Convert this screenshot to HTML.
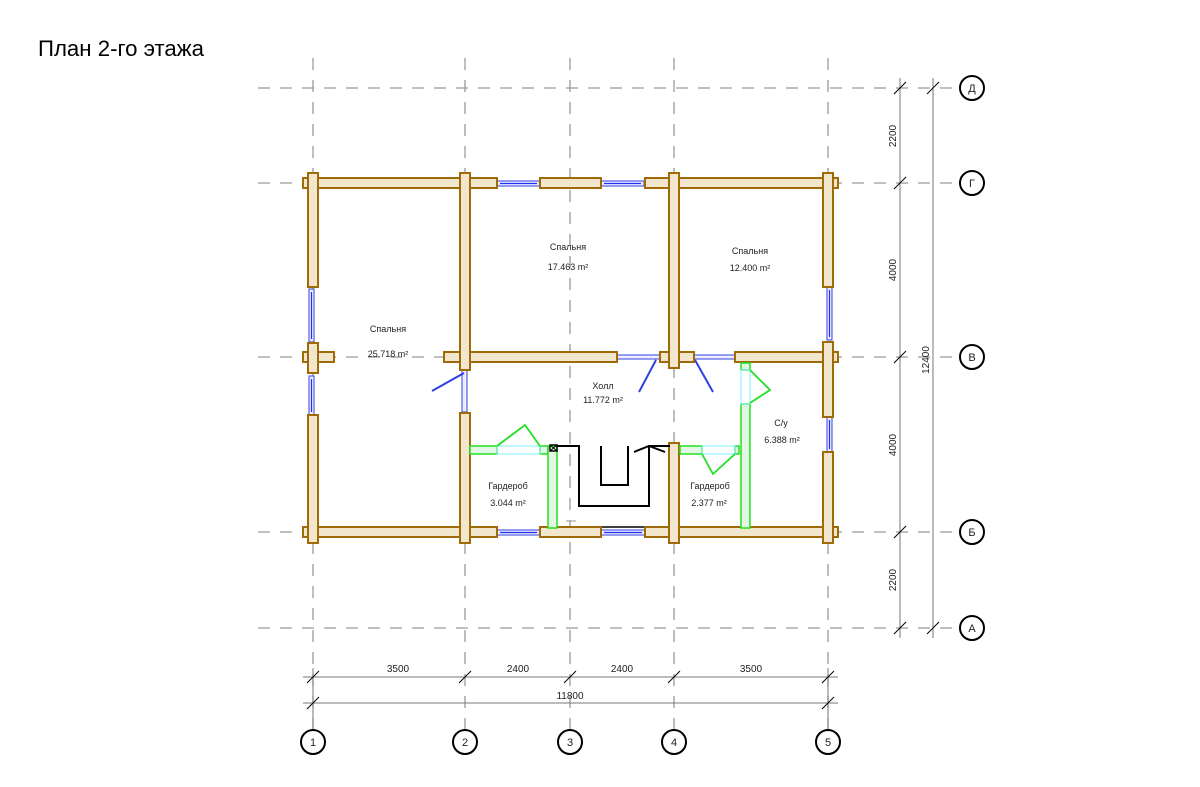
<!DOCTYPE html>
<html><head><meta charset="utf-8"><style>
html,body{margin:0;padding:0;background:#fff;}
svg{display:block;}
text{font-family:"Liberation Sans Narrow","Liberation Sans",sans-serif;fill:#222;}
</style></head><body>
<svg width="1200" height="787" viewBox="0 0 1200 787" xmlns="http://www.w3.org/2000/svg">
<text x="38" y="56" font-size="22" textLength="166" lengthAdjust="spacingAndGlyphs" style="fill:#000">План 2-го этажа</text>

<g stroke="#999" stroke-width="1.3" stroke-dasharray="12,10" fill="none">
<line x1="258" y1="88" x2="960" y2="88"/>
<line x1="258" y1="183" x2="960" y2="183"/>
<line x1="258" y1="357" x2="960" y2="357"/>
<line x1="258" y1="532" x2="960" y2="532"/>
<line x1="258" y1="628" x2="960" y2="628"/>
<line x1="313" y1="58" x2="313" y2="730"/>
<line x1="465" y1="58" x2="465" y2="730"/>
<line x1="570" y1="58" x2="570" y2="730"/>
<line x1="674" y1="58" x2="674" y2="730"/>
<line x1="828" y1="58" x2="828" y2="730"/>
</g>

<g stroke="#777" stroke-width="1" fill="none">
<line x1="900" y1="78" x2="900" y2="638"/>
<line x1="933" y1="78" x2="933" y2="638"/>
<line x1="303" y1="677" x2="838" y2="677"/>
<line x1="303" y1="703" x2="838" y2="703"/>
<line x1="313" y1="668" x2="313" y2="730"/>
<line x1="828" y1="668" x2="828" y2="730"/>
</g>
<g stroke="#000" stroke-width="1">
<line x1="894" y1="94" x2="906" y2="82"/><line x1="927" y1="94" x2="939" y2="82"/>
<line x1="894" y1="189" x2="906" y2="177"/>
<line x1="894" y1="363" x2="906" y2="351"/>
<line x1="894" y1="538" x2="906" y2="526"/>
<line x1="894" y1="634" x2="906" y2="622"/><line x1="927" y1="634" x2="939" y2="622"/>
<line x1="307" y1="683" x2="319" y2="671"/><line x1="459" y1="683" x2="471" y2="671"/><line x1="564" y1="683" x2="576" y2="671"/><line x1="668" y1="683" x2="680" y2="671"/><line x1="822" y1="683" x2="834" y2="671"/>
<line x1="307" y1="709" x2="319" y2="697"/><line x1="822" y1="709" x2="834" y2="697"/>
</g>
<g font-size="10">
<text x="398" y="672" text-anchor="middle">3500</text>
<text x="518" y="672" text-anchor="middle">2400</text>
<text x="622" y="672" text-anchor="middle">2400</text>
<text x="751" y="672" text-anchor="middle">3500</text>
<text x="570" y="699" text-anchor="middle">11800</text>
<text transform="translate(896,136) rotate(-90)" text-anchor="middle">2200</text>
<text transform="translate(896,270) rotate(-90)" text-anchor="middle">4000</text>
<text transform="translate(896,445) rotate(-90)" text-anchor="middle">4000</text>
<text transform="translate(896,580) rotate(-90)" text-anchor="middle">2200</text>
<text transform="translate(929,360) rotate(-90)" text-anchor="middle">12400</text>
</g>

<g stroke="#000" stroke-width="2" fill="#fff">
<circle cx="313" cy="742" r="12"/><circle cx="465" cy="742" r="12"/><circle cx="570" cy="742" r="12"/><circle cx="674" cy="742" r="12"/><circle cx="828" cy="742" r="12"/>
<circle cx="972" cy="88" r="12"/><circle cx="972" cy="183" r="12"/><circle cx="972" cy="357" r="12"/><circle cx="972" cy="532" r="12"/><circle cx="972" cy="628" r="12"/>
</g>
<g font-size="11" text-anchor="middle">
<text x="313" y="746">1</text><text x="465" y="746">2</text><text x="570" y="746">3</text><text x="674" y="746">4</text><text x="828" y="746">5</text>
<text x="972" y="92">Д</text><text x="972" y="187">Г</text><text x="972" y="361">В</text><text x="972" y="536">Б</text><text x="972" y="632">А</text>
</g>

<g fill="#eef" stroke="#3040e0" stroke-width="1">
<rect x="497" y="181" width="43" height="5"/><rect x="601" y="181" width="43" height="5"/>
<rect x="497" y="530" width="43" height="5"/><rect x="601" y="530" width="44" height="5"/>
<rect x="617" y="355" width="43" height="4"/><rect x="694" y="355" width="41" height="4"/>
<rect x="309" y="289" width="5" height="53"/><rect x="309" y="376" width="5" height="39"/>
<rect x="827" y="287" width="5" height="53"/><rect x="827" y="417" width="5" height="35"/>
<rect x="462" y="370" width="5" height="42"/>
</g>
<g stroke="#2030f0" stroke-width="1.2">
<line x1="500" y1="183.5" x2="537" y2="183.5"/><line x1="604" y1="183.5" x2="641" y2="183.5"/>
<line x1="500" y1="532.5" x2="537" y2="532.5"/><line x1="604" y1="532.5" x2="642" y2="532.5"/>
<line x1="311.5" y1="292" x2="311.5" y2="339"/><line x1="311.5" y1="379" x2="311.5" y2="412"/>
<line x1="829.5" y1="290" x2="829.5" y2="337"/><line x1="829.5" y1="420" x2="829.5" y2="449"/>
</g>
<line x1="601" y1="527" x2="645" y2="527" stroke="#000" stroke-width="1.5"/>
<g stroke="#3040e0" stroke-width="2" fill="none">
<line x1="464" y1="373" x2="432" y2="391"/>
<line x1="656" y1="360" x2="639" y2="392"/>
<line x1="695" y1="360" x2="713" y2="392"/>
</g>

<g fill="#f2e6cc" stroke="#a06a08" stroke-width="2">
<rect x="303" y="178" width="194" height="10"/>
<rect x="540" y="178" width="61" height="10"/>
<rect x="645" y="178" width="193" height="10"/>
<rect x="303" y="527" width="194" height="10"/>
<rect x="540" y="527" width="61" height="10"/>
<rect x="645" y="527" width="193" height="10"/>
<rect x="303" y="352" width="31" height="10"/>
<rect x="444" y="352" width="173" height="10"/>
<rect x="660" y="352" width="34" height="10"/>
<rect x="735" y="352" width="103" height="10"/>
<rect x="308" y="173" width="10" height="114"/>
<rect x="308" y="343" width="10" height="30"/>
<rect x="308" y="415" width="10" height="128"/>
<rect x="460" y="173" width="10" height="197"/>
<rect x="460" y="413" width="10" height="130"/>
<rect x="669" y="173" width="10" height="195"/>
<rect x="669" y="443" width="10" height="100"/>
<rect x="823" y="173" width="10" height="114"/>
<rect x="823" y="342" width="10" height="75"/>
<rect x="823" y="452" width="10" height="91"/>
</g>

<g stroke="#20e020" stroke-width="1.5" fill="#e4f7e4">
<rect x="470" y="446" width="27" height="8"/>
<rect x="540" y="446" width="8" height="8"/>
<rect x="548" y="446" width="9" height="82"/>
<rect x="680" y="446" width="22" height="8"/>
<rect x="735" y="446" width="4" height="8"/>
<rect x="741" y="363" width="9" height="7"/>
<rect x="741" y="404" width="9" height="124"/>
</g>
<g stroke="#80f0ff" stroke-width="1" fill="none">
<rect x="497" y="446" width="43" height="8"/>
<rect x="702" y="446" width="33" height="8"/>
<rect x="741" y="370" width="9" height="34"/>
</g>
<g stroke="#20e020" stroke-width="1.8" fill="none">
<polyline points="497,446 525,425 540,446"/>
<polyline points="702,454 713,474 735,454"/>
<polyline points="750,370 770,390 750,403"/>
</g>
<g stroke="#000" stroke-width="2" fill="none">
<polyline points="557,446 579,446 579,506 649,506 649,446 670,446"/>
<polyline points="601,446 601,485 628,485 628,446"/>
<polyline points="634,452 649,446 665,452"/>
<rect x="550" y="445" width="7" height="6" stroke-width="1.5"/>
<line x1="550" y1="445" x2="557" y2="451" stroke-width="1"/><line x1="557" y1="445" x2="550" y2="451" stroke-width="1"/>
</g>
<line x1="566" y1="521" x2="576" y2="521" stroke="#999" stroke-width="1"/>

<g font-size="9" text-anchor="middle">
<text x="568" y="250">Спальня</text><text x="568" y="270">17.463 m²</text>
<text x="750" y="254">Спальня</text><text x="750" y="271">12.400 m²</text>
<text x="388" y="332">Спальня</text><text x="388" y="357">25.718 m²</text>
<text x="603" y="389">Холл</text><text x="603" y="403">11.772 m²</text>
<text x="781" y="426">С/у</text><text x="782" y="443">6.388 m²</text>
<text x="508" y="489">Гардероб</text><text x="508" y="506">3.044 m²</text>
<text x="710" y="489">Гардероб</text><text x="709" y="506">2.377 m²</text>
</g>
</svg>
</body></html>
